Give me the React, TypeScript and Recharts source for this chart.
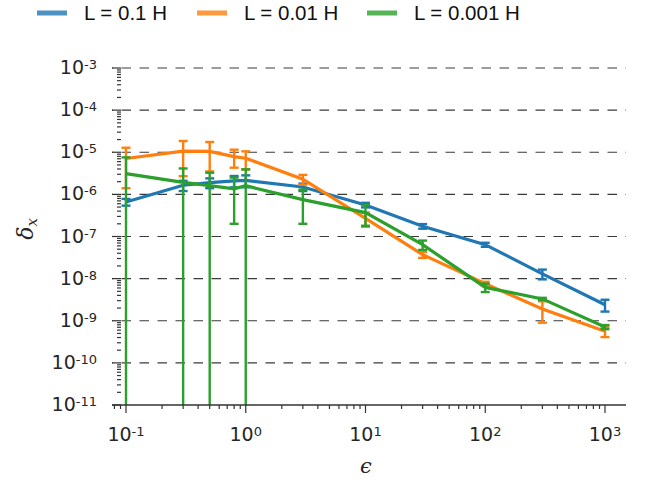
import React from "react";
import { LineChart, Line, XAxis, YAxis, CartesianGrid, ErrorBar } from "recharts";

// coupling strength
const epsilon = [0.1, 0.3, 0.5, 0.8, 1, 3, 10, 30, 100, 300, 1000];

// displacement delta_x for each inductance, with its standard error
const deltaL01 = [6.6e-7, 1.65e-6, 1.9e-6, 2.1e-6, 2.15e-6, 1.5e-6, 5.6e-7, 1.75e-7, 6.4e-8, 1.3e-8, 2.4e-9];
const errL01 = [1.2e-7, 4.5e-7, 5e-7, 6.3e-7, 6.8e-7, 3e-7, 7e-8, 2.2e-8, 7e-9, 3.4e-9, 7.5e-10];

const deltaL001 = [7.1e-6, 1.06e-5, 1.05e-5, 7.9e-6, 7.2e-6, 2.3e-6, 2.7e-7, 3.7e-8, 7.6e-9, 1.9e-9, 5.6e-10];
const errL001 = [5.7e-6, 7.9e-6, 7.0e-6, 3.6e-6, 3.3e-6, 6e-7, 1e-7, 6e-9, 8e-10, 1e-9, 1.5e-10];

const deltaL0001 = [3.1e-6, 1.93e-6, 1.61e-6, 1.35e-6, 1.6e-6, 7.5e-7, 3.7e-7, 6.4e-8, 6.2e-9, 3.3e-9, 7.1e-10];
const errL0001 = [4.45e-6, 2.2e-6, 1.66e-6, 1.15e-6, 2.33e-6, 5.5e-7, 1.9e-7, 1.6e-8, 1.4e-9, 2e-10, 8e-11];

const seriesNames = ["L = 0.1 H", "L = 0.01 H", "L = 0.001 H"];
const seriesColors = ["#1f77b4", "#ff7f0e", "#2ca02c"];

const xMajor = [0.1, 1, 10, 100, 1000];
const yMajor = [1e-11, 1e-10, 1e-9, 1e-8, 1e-7, 1e-6, 1e-5, 1e-4, 1e-3];
const minorSteps = [2, 3, 4, 5, 6, 7, 8, 9];

const X_DOMAIN = [Math.pow(10, -1.1169), Math.pow(10, 3.1754)];
const Y_DOMAIN = [1e-11, 1e-3];

// chart frame
const W = 653;
const H = 484;
const PLOT = { left: 112, top: 68, right: 626, bottom: 405 };

// minor log ticks inside the visible range
const minorTicks = (majors: number[], lo: number, hi: number) => {
  const out: number[] = [];
  [majors[0] / 10, ...majors].forEach((m) =>
    minorSteps.forEach((s) => {
      const v = m * s;
      if (v > lo && v < hi && !majors.includes(v)) out.push(v);
    })
  );
  return out;
};
const xTicks = [...xMajor, ...minorTicks(xMajor, X_DOMAIN[0], X_DOMAIN[1])].sort((a, b) => a - b);
const yTicks = [...yMajor, ...minorTicks(yMajor, Y_DOMAIN[0], Y_DOMAIN[1])].sort((a, b) => a - b);

// bars that would reach zero are run past the bottom of the log axis (and clipped)
const errRange = (v: number, e: number) => [Math.min(e, v - 1e-13), e];

const rows = epsilon.map((e, i) => ({
  epsilon: e,
  l01: deltaL01[i],
  l01Err: errRange(deltaL01[i], errL01[i]),
  l001: deltaL001[i],
  l001Err: errRange(deltaL001[i], errL001[i]),
  l0001: deltaL0001[i],
  l0001Err: errRange(deltaL0001[i], errL0001[i]),
}));

const keys = ["l01", "l001", "l0001"];

const INK = "#262626";
const TICK_FONT = "'DejaVu Sans', sans-serif";

const isMajor = (v: number) => {
  const l = Math.log10(v);
  return Math.abs(l - Math.round(l)) < 1e-6;
};

function XTick(props: any) {
  const { x, y, payload } = props;
  const major = isMajor(payload.value);
  const exp = Math.round(Math.log10(payload.value));
  return (
    <g>
      <line x1={x} x2={x} y1={y} y2={y + (major ? 8 : 4)} stroke="#333" strokeWidth={1.2} />
      {major && (
        <text x={x} y={y + 36} textAnchor="middle" fontFamily={TICK_FONT} fontSize={19} fill={INK}>
          10
          <tspan dy={-5} fontSize={13}>{`${exp}`}</tspan>
        </text>
      )}
    </g>
  );
}

function YTick(props: any) {
  const { x, y, payload } = props;
  const major = isMajor(payload.value);
  const exp = Math.round(Math.log10(payload.value));
  const spine = x + 9;
  return (
    <g>
      <line x1={spine - (major ? 9 : 4)} x2={spine} y1={y} y2={y} stroke="#333" strokeWidth={1.2} />
      {major && (
        <text x={x - 15} y={y + 6} textAnchor="end" fontFamily={TICK_FONT} fontSize={19} fill={INK}>
          10
          <tspan dy={-5} fontSize={13}>{`${exp}`}</tspan>
        </text>
      )}
    </g>
  );
}

// legend, axis titles and the clip region used by the error bars
function Overlay() {
  const legendX = [37, 197, 367];
  return (
    <svg width={W} height={H} style={{ position: "absolute", left: 0, top: 0, pointerEvents: "none" }}>
      <defs>
        <clipPath id="plot-area" clipPathUnits="userSpaceOnUse">
          <rect x={PLOT.left} y={PLOT.top - 20} width={PLOT.right - PLOT.left} height={PLOT.bottom - PLOT.top + 20} />
        </clipPath>
      </defs>
      {seriesNames.map((name, i) => (
        <g key={name}>
          <line
            x1={legendX[i]}
            x2={legendX[i] + 30}
            y1={13}
            y2={13}
            stroke={seriesColors[i]}
            strokeOpacity={0.8}
            strokeWidth={5}
          />
          <text
            x={legendX[i] + 47}
            y={20}
            fontFamily="'Liberation Sans Narrow', 'Liberation Sans', sans-serif"
            fontSize={20.5}
            fill="#111"
          >
            {name}
          </text>
        </g>
      ))}
      <text
        x={33}
        y={229}
        transform="rotate(-90, 33, 229)"
        textAnchor="middle"
        fontFamily="'DejaVu Serif', serif"
        fontStyle="italic"
        fontSize={22}
        fill={INK}
      >
        δ
        <tspan dy={4} fontSize={15}>x</tspan>
      </text>
      <text
        x={366}
        y={473}
        textAnchor="middle"
        fontFamily="'DejaVu Serif', serif"
        fontStyle="italic"
        fontSize={21}
        fill={INK}
      >
        ϵ
      </text>
    </svg>
  );
}

export default function App() {
  return (
    <div style={{ position: "absolute", left: 0, top: 0, width: W, height: H, background: "#fff" }}>
      <LineChart
        width={W}
        height={H}
        data={rows}
        margin={{ top: PLOT.top, right: W - PLOT.right, bottom: 0, left: 0 }}
        style={{ position: "absolute", left: 0, top: 0 }}
      >
        <CartesianGrid
          vertical={false}
          horizontalValues={yMajor.slice(1)}
          stroke="#3a3a3a"
          strokeWidth={1.2}
          strokeDasharray="9.5 8.5"
          strokeDashoffset={8.5}
        />
        <XAxis
          dataKey="epsilon"
          type="number"
          scale="log"
          domain={X_DOMAIN}
          allowDataOverflow
          ticks={xTicks}
          interval={0}
          tick={<XTick />}
          tickLine={false}
          tickSize={0}
          tickMargin={0}
          height={H - PLOT.bottom}
          axisLine={{ stroke: "#333", strokeWidth: 1.3 }}
        />
        <YAxis
          type="number"
          scale="log"
          domain={Y_DOMAIN}
          allowDataOverflow
          ticks={yTicks}
          interval={0}
          tick={<YTick />}
          tickLine={false}
          tickSize={0}
          tickMargin={0}
          width={PLOT.left}
          axisLine={false}
        />
        {keys.map((k, i) => (
          <Line
            key={k}
            dataKey={k}
            name={seriesNames[i]}
            stroke={seriesColors[i]}
            strokeWidth={3.2}
            dot={false}
            activeDot={false}
            isAnimationActive={false}
          >
            <ErrorBar
              dataKey={`${k}Err`}
              direction="y"
              width={4.5}
              stroke={seriesColors[i]}
              strokeWidth={2.4}
              clipPath="url(#plot-area)"
              isAnimationActive={false}
            />
          </Line>
        ))}
      </LineChart>
      <Overlay />
    </div>
  );
}
